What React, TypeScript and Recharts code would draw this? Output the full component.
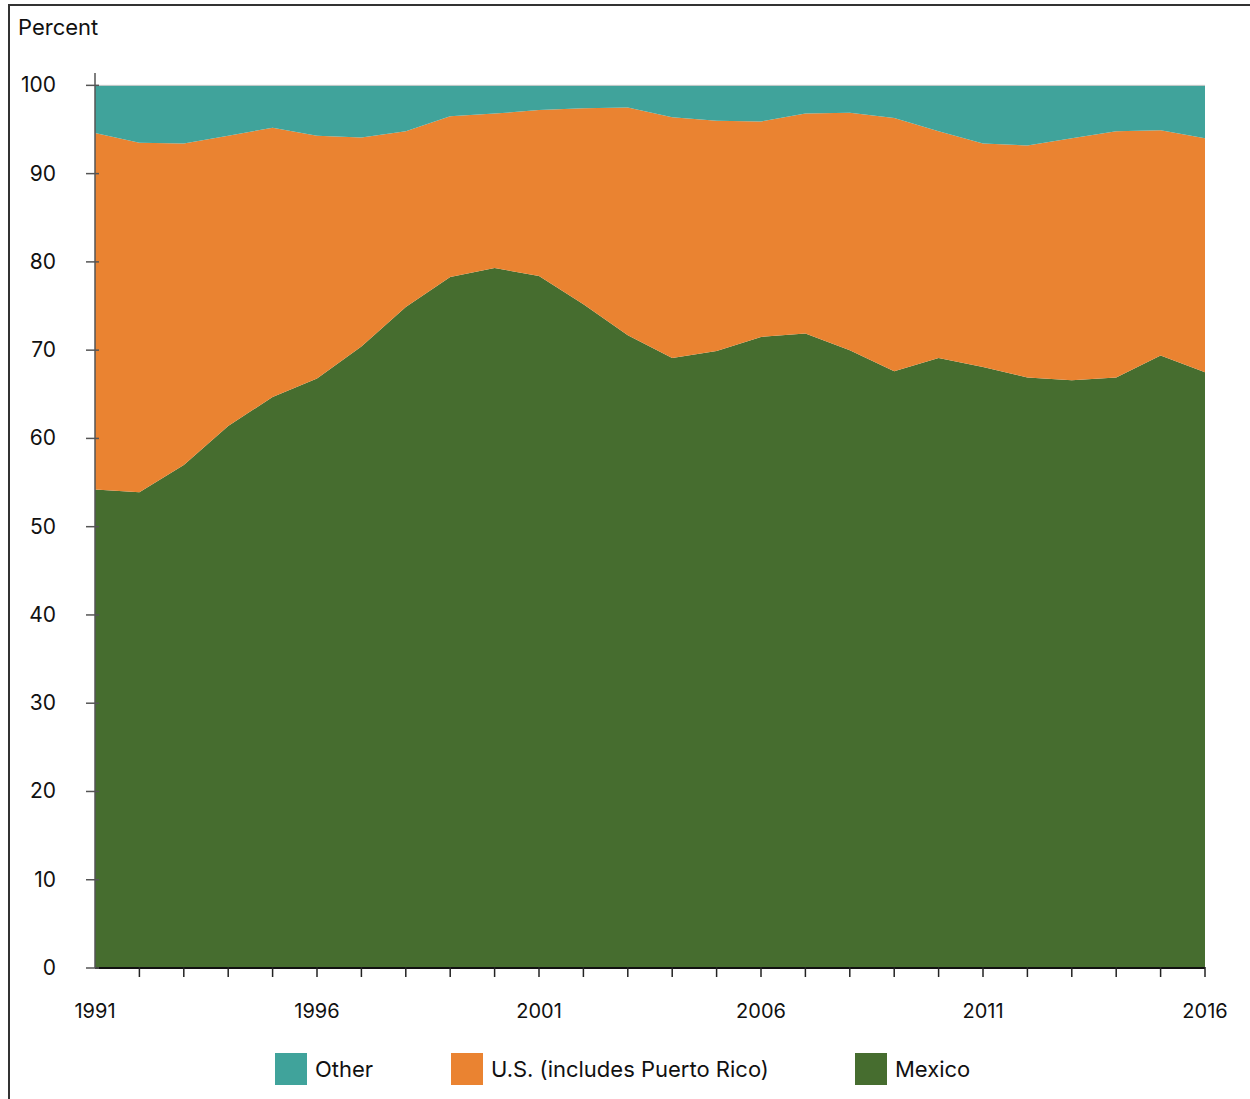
import { AreaChart, Area, XAxis, YAxis, ReferenceLine } from "recharts";

const years = [
  1991, 1992, 1993, 1994, 1995, 1996, 1997, 1998, 1999, 2000, 2001, 2002, 2003,
  2004, 2005, 2006, 2007, 2008, 2009, 2010, 2011, 2012, 2013, 2014, 2015, 2016,
];

const mexico = [
  54.2, 53.9, 57.0, 61.4, 64.7, 66.8, 70.4, 74.9, 78.3, 79.3, 78.4, 75.2, 71.7,
  69.1, 69.9, 71.5, 71.9, 70.0, 67.6, 69.1, 68.1, 66.9, 66.6, 66.9, 69.4, 67.5,
];

const us = [
  40.4, 39.6, 36.4, 32.9, 30.5, 27.5, 23.7, 19.9, 18.2, 17.5, 18.8, 22.2, 25.8,
  27.3, 26.1, 24.4, 24.9, 26.9, 28.7, 25.7, 25.3, 26.3, 27.4, 27.9, 25.5, 26.5,
];

const other = [
  5.4, 6.5, 6.6, 5.7, 4.8, 5.7, 5.9, 5.2, 3.5, 3.2, 2.8, 2.6, 2.5,
  3.6, 4.0, 4.1, 3.2, 3.1, 3.7, 5.2, 6.6, 6.8, 6.0, 5.2, 5.1, 6.0,
];

const yTicks = [0, 10, 20, 30, 40, 50, 60, 70, 80, 90, 100];
const xLabels = [1991, 1996, 2001, 2006, 2011, 2016];

const COLORS = { other: "#40a39b", us: "#ea8331", mexico: "#466d2f" };
const FONT = "Inter, 'Noto Sans', sans-serif";

const data = years.map((year, i) => ({
  year,
  mexico: mexico[i],
  us: us[i],
  other: other[i],
}));

const legendItems = [
  { key: "other", label: "Other", color: COLORS.other, x: 275 },
  { key: "us", label: "U.S. (includes Puerto Rico)", color: COLORS.us, x: 451 },
  { key: "mexico", label: "Mexico", color: COLORS.mexico, x: 855 },
];

const XTick = ({ x, y, payload }: any) => {
  const show = xLabels.includes(payload.value);
  const first = payload.value === years[0];
  return (
    <g>
      {!first && <line x1={x} x2={x} y1={y - 9} y2={y + 1} stroke="#222" strokeWidth={1.5} />}
      {show && (
        <text x={x} y={y + 42} textAnchor="middle" fontSize={20} fill="#111" fontFamily={FONT}>
          {payload.value}
        </text>
      )}
    </g>
  );
};

const YTick = ({ x, y, payload }: any) => (
  <g>
    <line x1={x - 1} x2={x + 12} y1={y} y2={y} stroke="#555" strokeWidth={1.5} />
    <text x={x - 31} y={y + 7} textAnchor="end" fontSize={21} fill="#111" fontFamily={FONT}>
      {payload.value}
    </text>
  </g>
);

export default function App() {
  return (
    <div style={{ position: "absolute", left: 0, top: 0, width: 1250, height: 1099, background: "#fff", overflow: "hidden" }}>
      <div
        style={{
          position: "absolute",
          left: 8,
          top: 4,
          width: 1250,
          height: 1100,
          borderTop: "2px solid #333",
          borderLeft: "2px solid #333",
        }}
      />
      <div
        style={{
          position: "absolute",
          left: 18,
          top: 14,
          fontSize: 22,
          fontFamily: FONT,
          color: "#111",
        }}
      >
        Percent
      </div>
      <div style={{ position: "absolute", left: 0, top: 0 }}>
        <AreaChart
          width={1250}
          height={1099}
          data={data}
          margin={{ top: 73, right: 45, bottom: 0, left: 0 }}
        >
          <XAxis
            dataKey="year"
            type="number"
            domain={[1991, 2016]}
            ticks={years}
            interval={0}
            tick={<XTick />}
            tickLine={false}
            axisLine={{ stroke: "#111", strokeWidth: 2 }}
            height={131}
          />
          <YAxis
            type="number"
            domain={[0, 101.4]}
            ticks={yTicks}
            allowDataOverflow
            tick={<YTick />}
            tickLine={false}
            axisLine={{ stroke: "#555", strokeWidth: 1.5 }}
            width={95}
          />
          <Area
            type="linear"
            dataKey="mexico"
            stackId="a"
            fill={COLORS.mexico}
            fillOpacity={1}
            stroke="none"
            isAnimationActive={false}
          />
          <Area
            type="linear"
            dataKey="us"
            stackId="a"
            fill={COLORS.us}
            fillOpacity={1}
            stroke="none"
            isAnimationActive={false}
          />
          <Area
            type="linear"
            dataKey="other"
            stackId="a"
            fill={COLORS.other}
            fillOpacity={1}
            stroke="none"
            isAnimationActive={false}
          />
          <ReferenceLine y={100} stroke="#ccc" strokeWidth={1} />
        </AreaChart>
      </div>
      <div style={{ position: "absolute", left: 0, top: 1053, width: 1250, height: 32, fontFamily: FONT }}>
        {legendItems.map((item) => (
          <div
            key={item.key}
            style={{ position: "absolute", left: item.x, top: 0, display: "flex", alignItems: "center" }}
          >
            <div style={{ width: 32, height: 32, background: item.color }} />
            <span style={{ marginLeft: 8, fontSize: 22, color: "#111" }}>{item.label}</span>
          </div>
        ))}
      </div>
    </div>
  );
}
